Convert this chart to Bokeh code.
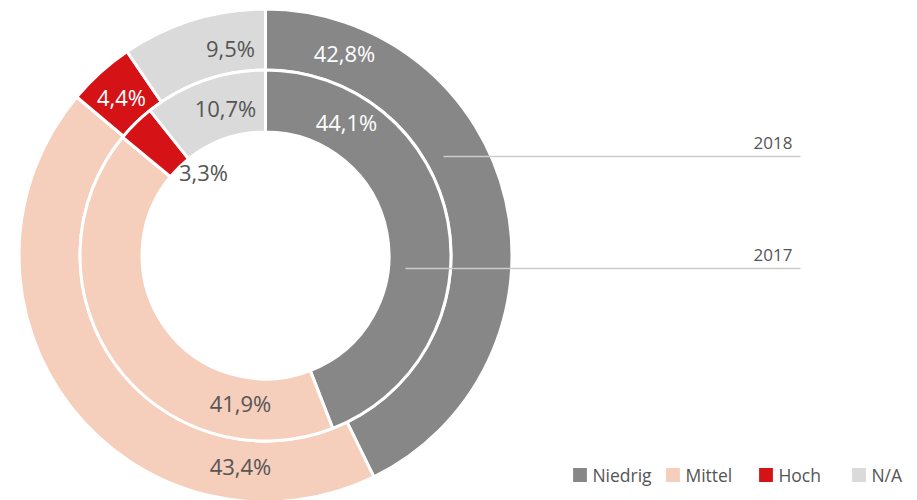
import math
from bokeh.plotting import figure
from bokeh.models import Range1d, ColumnDataSource, Legend, LegendItem
from bokeh.core.properties import value
from bokeh.embed import file_html
from bokeh.resources import INLINE

# ---- data ----
categories = ["Niedrig", "Mittel", "Hoch", "N/A"]
values_2018 = [42.8, 43.4, 4.4, 9.5]
values_2017 = [44.1, 41.9, 3.3, 10.7]
years = ["2018", "2017"]

# ---- styles / layout ----
colors = ["#878787", "#F6CEBC", "#D51317", "#DADADA"]
FONT = "Open Sans"
GREY_TXT = "#555555"
W, H = 917, 500
CX, CY = 265, 255  # chart centre in page pixels
# ring radii (outer ring = 2018, inner ring = 2017)
rings = {"2018": (185.5, 246.5), "2017": (123.5, 185.5)}
# label positions (pixels relative to the chart centre, y up)
label_pos_2018 = [(79, 203), (-25, -210), (-144, 159), (-35, 208)]
label_pos_2017 = [(81, 134), (-25, -147), (-62, 84), (-40, 148)]
label_col_2018 = ["white", GREY_TXT, "white", GREY_TXT]
label_col_2017 = ["white", GREY_TXT, GREY_TXT, GREY_TXT]
leader = {"2018": (178, 99, 113), "2017": (140, -13, 1)}  # x start, y line, y label


def fmt(v):
    return ("%.1f" % v).replace(".", ",") + "%"


def wedges(vals):
    tot = sum(vals)
    starts, ends = [], []
    acc = 0.0
    for v in vals:
        starts.append(math.pi / 2 - 2 * math.pi * acc / tot)
        acc += v
        ends.append(math.pi / 2 - 2 * math.pi * acc / tot)
    return starts, ends


p = figure(width=W, height=H, output_backend="svg", toolbar_location=None,
           x_range=Range1d(-CX, W - CX), y_range=Range1d(CY - H, CY),
           x_axis_type=None, y_axis_type=None, min_border=0)
p.grid.visible = False
p.outline_line_color = None
p.background_fill_color = "white"
p.border_fill_color = "white"

renderers = {}
for yr, vals in (("2018", values_2018), ("2017", values_2017)):
    s, e = wedges(vals)
    src = ColumnDataSource(dict(start=s, end=e, color=colors, cat=categories))
    r_in, r_out = rings[yr]
    renderers[yr] = p.annular_wedge(x=0, y=0, inner_radius=r_in, outer_radius=r_out,
                                    start_angle="start", end_angle="end", direction="clock",
                                    fill_color="color", line_color="white", line_width=3,
                                    source=src)

for vals, pos, cols in ((values_2018, label_pos_2018, label_col_2018),
                        (values_2017, label_pos_2017, label_col_2017)):
    src = ColumnDataSource(dict(x=[q[0] for q in pos], y=[q[1] for q in pos],
                                t=[fmt(v) for v in vals], c=cols))
    p.text(x="x", y="y", text="t", text_color="c", text_align="center",
           text_baseline="middle", text_font=value(FONT), text_font_size="22px", source=src)

for yr in years:
    x0, yl, yt = leader[yr]
    p.segment(x0=x0, y0=yl, x1=535, y1=yl, line_color="#CCCCCC", line_width=1.5)
    p.text(x=[527], y=[yt], text=[yr], text_align="right", text_baseline="middle",
           text_color=GREY_TXT, text_font=value(FONT), text_font_size="17px")

items = [LegendItem(label=c, renderers=[renderers["2018"]], index=i) for i, c in enumerate(categories)]
legend = Legend(items=items, orientation="horizontal", location=(569.4, 13.5),
                glyph_width=21, glyph_height=21, label_height=21, label_width=60,
                label_standoff=2, spacing=10, padding=0, margin=0,
                border_line_color=None, background_fill_alpha=0,
                label_text_font=FONT, label_text_font_size="17.5px", label_text_color=GREY_TXT)
p.add_layout(legend, "center")

open("out.html", "w").write(file_html(p, INLINE))
